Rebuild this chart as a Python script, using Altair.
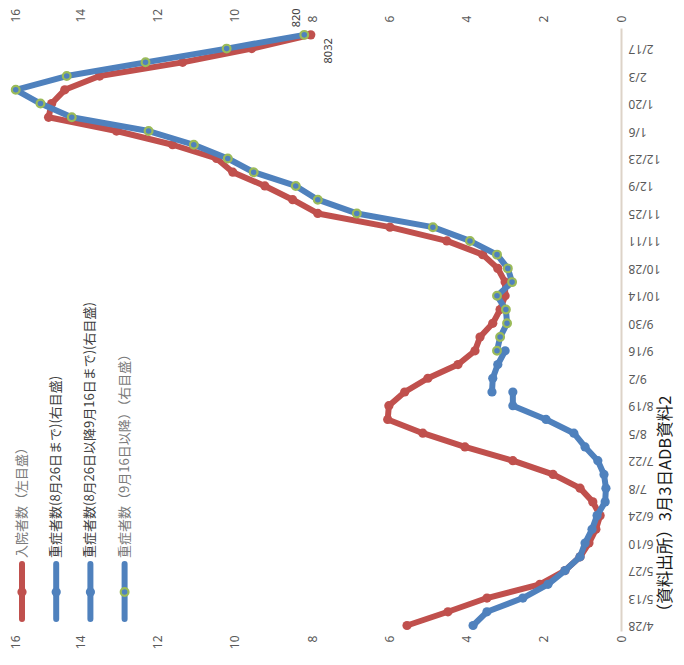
import altair as alt
import pandas as pd

# ---- data ----
tick_dates = ['4/28', '5/13', '5/27', '6/10', '6/24', '7/8', '7/22', '8/5', '8/19',
              '9/2', '9/16', '9/30', '10/14', '10/28', '11/11', '11/25', '12/9',
              '12/23', '1/6', '1/20', '2/3', '2/17']

# 入院者数 (left axis), weekly, week 0 .. 43
hosp = [5540, 4480, 3470, 2100, 1450, 1060, 830, 650, 540, 730, 1060, 1760,
        2800, 4040, 5130, 6040, 6010, 5600, 5000, 4220, 3780, 3650, 3320, 3130,
        3000, 3000, 3190, 3580, 4510, 5980, 7850, 8500, 9220, 10050, 10470,
        11610, 13060, 14820, 14740, 14400, 13500, 11350, 9560, 8032]

# 重症者数 (right axis)
sev1_start = 0   # until 8/26
sev1 = [383, 347, 254, 189, 145, 106, 93, 75, 62, 41, 39, 44, 60, 93, 122,
        194, 280, 280]
sev2_start = 17  # 8/26 - 9/16
sev2 = [334, 332, 319, 300]
sev3_start = 20  # from 9/16
sev3 = [321, 313, 295, 298, 321, 282, 293, 321, 391, 487, 684, 785, 842, 951,
        1018, 1106, 1223, 1422, 1503, 1567, 1435, 1231, 1021, 820]

legend_labels = ["入院者数（左目盛）",
                 "重症者数(8月26日まで)(右目盛)",
                 "重症者数(8月26日以降9月16日まで)(右目盛)",
                 "重症者数（9月16日以降）（右目盛）"]
source_note = "（資料出所）3月3日ADB資料2"

# ---- tables ----
df_h = pd.DataFrame({'week': list(range(len(hosp))), 'hosp': hosp})
parts = []
for name, start, vals in [('s1', sev1_start, sev1), ('s2', sev2_start, sev2),
                          ('s3', sev3_start, sev3)]:
    parts.append(pd.DataFrame({'series': name,
                               'week': list(range(start, start + len(vals))),
                               'sev': vals}))
df_s = pd.concat(parts, ignore_index=True)
last_week = len(hosp) - 1

RED = '#C0504D'
BLUE = '#4F81BD'
GREEN = '#9BBB59'
GRAY = '#595959'
NUMFONT = 'Noto Sans'
JPFONT = 'Noto Sans CJK JP'

label_arr = "[" + ",".join("'%s'" % d for d in tick_dates) + "]"
yenc = alt.Y('week:Q',
             scale=alt.Scale(domain=[-0.4, 43.5], nice=False, zero=False),
             axis=alt.Axis(orient='right', values=list(range(0, 2 * len(tick_dates), 2)),
                           labelExpr=label_arr + "[round(datum.value/2)]",
                           labelAngle=180, labelAlign='right', labelBaseline='middle',
                           labelPadding=7, ticks=False, grid=False,
                           domainColor='#DDD3C8', domainWidth=2,
                           labelColor=GRAY, labelFontSize=12, labelFont=NUMFONT,
                           labelOverlap=False, labelFlush=False, title=None))

xr = alt.X('hosp:Q',
           scale=alt.Scale(domain=[0, 16000], reverse=True, nice=False),
           axis=alt.Axis(orient='bottom', values=list(range(0, 16001, 2000)),
                         labelExpr='datum.value/1000', labelAngle=270,
                         labelAlign='right', labelBaseline='middle', labelPadding=4,
                         labelOffset={"condition": {"test": "datum.value == 16000",
                                                    "value": 12}, "value": 0},
                         ticks=False, domain=False, grid=False, labelFlush=False,
                         labelOverlap=False, labelColor=GRAY, labelFontSize=12,
                         labelFont=NUMFONT, title=None))

xb = alt.X('sev:Q',
           scale=alt.Scale(domain=[0, 1600], reverse=True, nice=False),
           axis=alt.Axis(orient='top', values=list(range(0, 1601, 200)),
                         labelExpr='datum.value/100', labelAngle=270,
                         labelAlign='left', labelBaseline='middle', labelPadding=6,
                         labelOffset={"condition": {"test": "datum.value == 1600",
                                                    "value": 12}, "value": 0},
                         ticks=False, domain=False, grid=False, labelFlush=False,
                         labelOverlap=False, labelColor=GRAY, labelFontSize=12,
                         labelFont=NUMFONT, title=None))

# ---- red series ----
red_base = alt.Chart(df_h)
red_line = red_base.mark_line(color=RED, strokeWidth=6, strokeCap='round',
                              strokeJoin='round').encode(x=xr, y=yenc, order='week:Q')
red_pts = red_base.mark_circle(color=RED, size=85, opacity=1).encode(x=xr, y=yenc)
red_lbl = red_base.transform_filter(f'datum.week == {last_week}').mark_text(
    angle=270, align='center', baseline='middle', dx=-16, dy=18, fontSize=11,
    font=NUMFONT, color='#404040').encode(x=xr, y=yenc, text='hosp:Q')
red_group = alt.layer(red_line, red_pts, red_lbl)

# ---- blue series ----
blue_base = alt.Chart(df_s)
blue_line = blue_base.mark_line(color=BLUE, strokeWidth=6, strokeCap='round',
                                strokeJoin='round').encode(
    x=xb, y=yenc, detail='series:N', order='week:Q')
blue_pts = blue_base.transform_filter("datum.series != 's3'").mark_circle(
    color=BLUE, size=85, opacity=1).encode(x=xb, y=yenc)
blue_ring = blue_base.transform_filter("datum.series == 's3'").mark_circle(
    color=BLUE, stroke=GREEN, strokeWidth=2.2, size=60, opacity=1).encode(x=xb, y=yenc)
blue_lbl = blue_base.transform_filter(
    f"datum.series == 's3' && datum.week == {last_week}").mark_text(
    angle=270, align='center', baseline='middle', dx=17, dy=-7, fontSize=11,
    font=NUMFONT, color='#404040').encode(x=xb, y=yenc, text='sev:Q')
blue_group = alt.layer(blue_line, blue_pts, blue_ring, blue_lbl)

# ---- legend (drawn rotated, like the reference) ----
legend_layers = []
leg_colors = [RED, BLUE, BLUE, BLUE]
leg_text_colors = ['#7a7a7a', '#404040', '#404040', '#7a7a7a']
one = alt.Data(values=[{}])
for k, lab in enumerate(legend_labels):
    xk = 19 + 34.2 * k
    legend_layers.append(alt.Chart(one).mark_rule(
        color=leg_colors[k], strokeWidth=6, strokeCap='round').encode(
        x=alt.value(xk), y=alt.value(536), y2=alt.value(591)))
    if k == 3:
        dot = alt.Chart(one).mark_circle(color=BLUE, stroke=GREEN, strokeWidth=2.2,
                                         size=60, opacity=1)
    else:
        dot = alt.Chart(one).mark_circle(color=leg_colors[k], size=85, opacity=1)
    legend_layers.append(dot.encode(x=alt.value(xk), y=alt.value(564)))
    legend_layers.append(alt.Chart(one).mark_text(
        angle=270, align='left', baseline='middle', fontSize=13, font=JPFONT,
        color=leg_text_colors[k]).encode(
        x=alt.value(xk), y=alt.value(530), text=alt.value(lab)))

note = alt.Chart(one).mark_text(
    angle=270, align='center', baseline='middle', fontSize=16.5, font=JPFONT,
    color='#1a1a1a').encode(x=alt.value(663), y=alt.value(480),
                            text=alt.value(source_note))

chart = alt.layer(red_group, blue_group, *legend_layers, note).resolve_scale(
    x='independent'
).properties(
    width=618, height=603,
    autosize=alt.AutoSizeParams(type='none'),
    padding={'left': -5, 'top': 20, 'right': 55, 'bottom': 19},
    background='white'
).configure_view(strokeWidth=0)

chart.save("out.html", embed_options={"renderer": "svg", "actions": False})
